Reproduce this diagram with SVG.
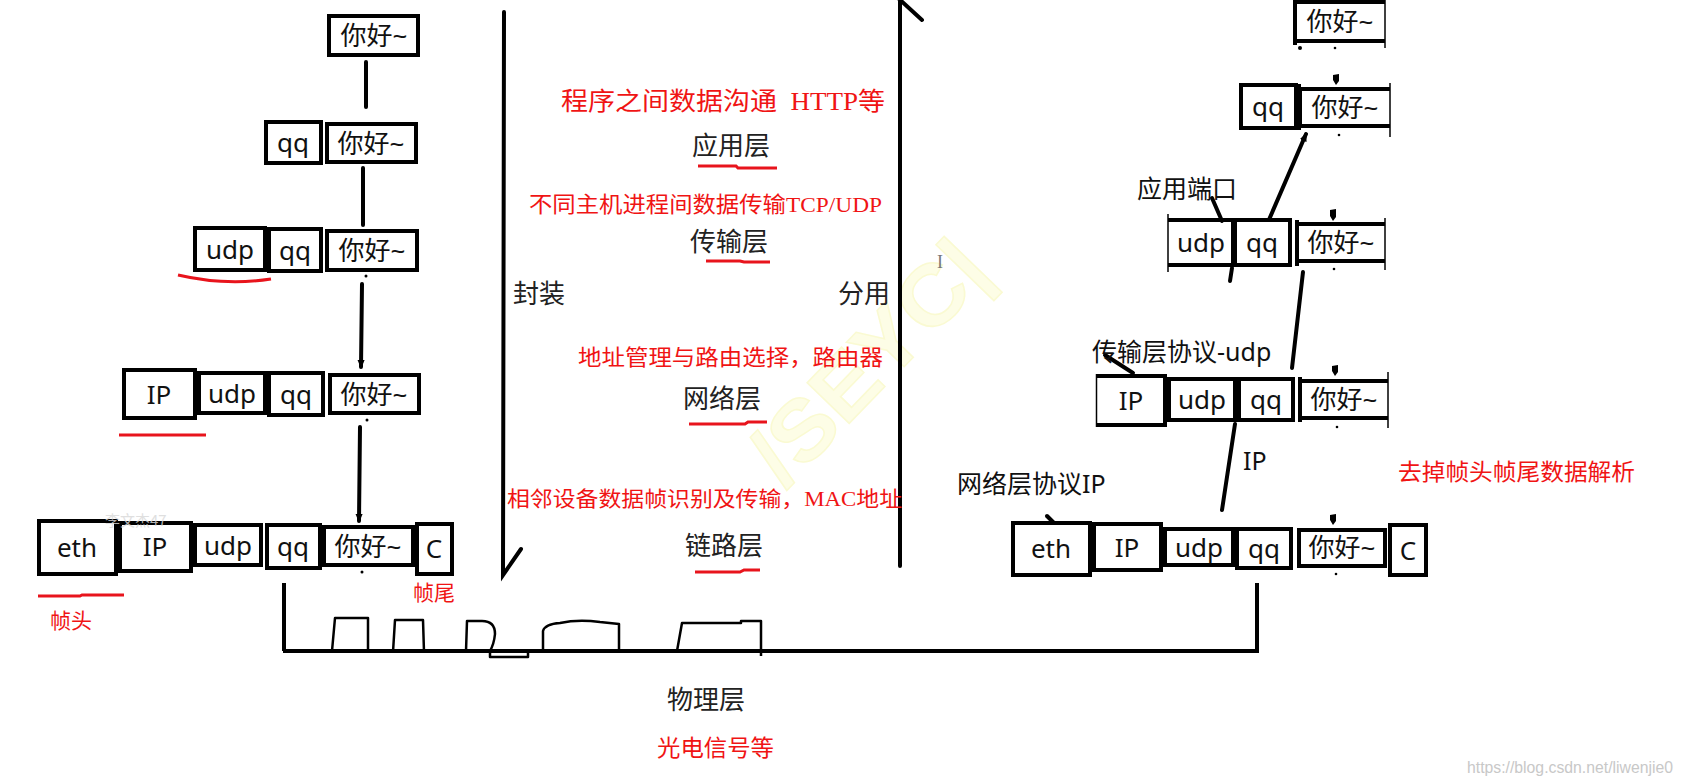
<svg xmlns="http://www.w3.org/2000/svg" width="1685" height="784" viewBox="0 0 1685 784">
<defs>
<style>
.bx{fill:#fff;stroke:#000;stroke-width:4}
.tk{fill:none;stroke:#000;stroke-width:4}
.tn{fill:none;stroke:#000;stroke-width:1.5}
.bt{font-family:"Noto Sans","Noto Sans CJK SC",sans-serif;font-size:26px;fill:#111;text-anchor:middle}
.lb{font-family:"Noto Sans","Noto Sans CJK SC",sans-serif;font-size:25px;fill:#111}
.ly{font-family:"Noto Sans CJK SC",sans-serif;font-size:26px;fill:#222}
.rd{font-family:"Liberation Serif","Noto Sans CJK SC",serif;fill:#f01414}
.ln{fill:none;stroke:#000;stroke-width:4;stroke-linecap:round}
.sg{fill:none;stroke:#000;stroke-width:2.5;stroke-linejoin:round}
.ul{fill:none;stroke:#e8141c;stroke-width:3}
.dot{fill:#000}
</style>
<marker id="ah" viewBox="0 0 10 10" refX="8" refY="5" markerWidth="9" markerHeight="9" markerUnits="userSpaceOnUse" orient="auto">
<path d="M0,1 L10,5 L0,9 z" fill="#000"/>
</marker>
</defs>
<rect width="1685" height="784" fill="#fff"/>

<!-- watermarks -->
<g id="watermarks">
<text x="785" y="490" transform="rotate(-46 785 490)" font-family="Liberation Sans,sans-serif" font-weight="bold" font-size="85" fill="#fdfde6" stroke="#fafad2" stroke-width="1.5" textLength="300" lengthAdjust="spacingAndGlyphs">/SEYC|</text>
<text x="1467" y="773" font-family="Liberation Sans,sans-serif" font-size="16" fill="#c8c8c8" textLength="206" lengthAdjust="spacingAndGlyphs">https://blog.csdn.net/liwenjie0</text>
<text x="940" y="268" text-anchor="middle" font-family="Liberation Serif,serif" font-size="18" fill="#777">I</text>
</g>

<!-- connectors -->
<g id="connectors">
<line class="ln" x1="366" y1="62" x2="366" y2="107"/>
<line class="ln" x1="363" y1="168" x2="363" y2="225"/>
<line class="ln" x1="362" y1="284" x2="361" y2="367" marker-end="url(#ah)"/>
<line class="ln" x1="360" y1="427" x2="359" y2="521" marker-end="url(#ah)"/>
<circle class="dot" cx="366" cy="276" r="1.5"/>
<circle class="dot" cx="367" cy="420" r="1.5"/>
<circle class="dot" cx="362" cy="572" r="1.5"/>
<path class="ln" d="M504,12 L503,575 L521,549"/>
<path class="ln" d="M900,566 L900,-4 M898,-2 L922,20"/>
<line class="tk" x1="284" y1="583" x2="284" y2="651" stroke-width="3"/>
<line class="tk" x1="1257" y1="583" x2="1257" y2="651" stroke-width="3"/>
<line class="tk" x1="283" y1="651" x2="1259" y2="651"/>
<path class="sg" d="M332,651 L335,618 H368 V651"/>
<path class="sg" d="M393,652 L395,620 H423 L424,652"/>
<path class="sg" d="M466,651 L467,621 H482 Q495,621 495,634 Q494,644 490,651 V657 H528 V651"/>
<path class="sg" d="M543,651 V631 Q545,624 560,623 Q578,619 600,622 L619,624 V651"/>
<path class="sg" d="M677,651 L682,623 H741 V621 H761 V656"/>
<line class="ln" x1="1268" y1="222" x2="1306" y2="134" stroke-width="5" marker-end="url(#ah)"/>
<line class="ln" x1="1212" y1="198" x2="1222" y2="221" stroke-width="3"/>
<line class="ln" x1="1232" y1="268" x2="1230" y2="281"/>
<line class="ln" x1="1303" y1="272" x2="1292" y2="368"/>
<line class="ln" x1="1105" y1="355" x2="1133" y2="373" stroke-width="3"/>
<line class="ln" x1="1235" y1="424" x2="1222" y2="510"/>
<line class="ln" x1="1047" y1="516" x2="1054" y2="523" stroke-width="3"/>
<path class="dot" d="M1333,75 L1339,74 L1339,81 L1336,85 L1333,80 z"/>
<path class="dot" d="M1330,210 L1336,209 L1336,217 L1333,221 L1330,216 z"/>
<path class="dot" d="M1332,366 L1338,365 L1338,372 L1335,376 L1332,371 z"/>
<path class="dot" d="M1330,515 L1336,514 L1336,521 L1333,525 L1330,520 z"/>
<circle class="dot" cx="1300" cy="48" r="2"/>
<circle class="dot" cx="1335" cy="48" r="1.3"/>
<circle class="dot" cx="1339" cy="135" r="1.3"/>
<circle class="dot" cx="1334" cy="269" r="1.3"/>
<circle class="dot" cx="1337" cy="427" r="1.3"/>
<circle class="dot" cx="1336" cy="574" r="1.3"/>
</g>

<!-- left: sender encapsulation -->
<g id="l-app">
<rect class="bx" x="329" y="16" width="89" height="39"/>
<text class="bt" x="374" y="45">你好~</text>
</g>
<g id="l-port">
<rect class="bx" x="266" y="122" width="55" height="41"/>
<text class="bt" x="293" y="152">qq</text>
<rect class="bx" x="327" y="124" width="89" height="38"/>
<text class="bt" x="371" y="153">你好~</text>
</g>
<g id="l-udp">
<rect class="bx" x="195" y="228" width="70" height="42"/>
<text class="bt" x="230" y="259">udp</text>
<rect class="bx" x="269" y="229" width="52" height="42"/>
<text class="bt" x="295" y="260">qq</text>
<rect class="bx" x="327" y="231" width="90" height="39"/>
<text class="bt" x="372" y="260">你好~</text>
<path class="ul" d="M178,275 Q225,286 271,279"/>
</g>
<g id="l-ip">
<rect class="bx" x="124" y="370" width="71" height="48"/>
<text class="bt" x="159" y="404">IP</text>
<rect class="bx" x="199" y="373" width="66" height="40"/>
<text class="bt" x="232" y="403">udp</text>
<rect class="bx" x="269" y="373" width="54" height="42"/>
<text class="bt" x="296" y="404">qq</text>
<rect class="bx" x="330" y="375" width="89" height="38"/>
<text class="bt" x="374" y="404">你好~</text>
<line class="ul" x1="119" y1="435" x2="206" y2="435"/>
</g>
<g id="l-eth">
<rect class="bx" x="39" y="521" width="77" height="53"/>
<text class="bt" x="77" y="557">eth</text>
<rect class="bx" x="120" y="523" width="71" height="48"/>
<text class="bt" x="155" y="556">IP</text>
<rect class="bx" x="195" y="525" width="66" height="40"/>
<text class="bt" x="228" y="555">udp</text>
<rect class="bx" x="267" y="525" width="53" height="43"/>
<text class="bt" x="293" y="556">qq</text>
<rect class="bx" x="324" y="527" width="89" height="38"/>
<text class="bt" x="368" y="556">你好~</text>
<rect class="bx" x="417" y="524" width="35" height="50"/>
<text class="bt" x="434" y="558">C</text>
<path class="ul" d="M38,596 H80 L82,595 H124"/>
<text class="rd" x="50" y="628" font-size="21">帧头</text>
<text class="rd" x="413" y="600" font-size="21">帧尾</text>
<text x="105" y="526" font-family="Noto Sans CJK SC,sans-serif" font-size="15" fill="#d8d8d8" opacity="0.8">李文杰47</text>
</g>

<!-- center: layers -->
<g id="layer-app">
<text class="rd" x="561" y="110" font-size="25" xml:space="preserve" textLength="324" lengthAdjust="spacingAndGlyphs">程序之间数据沟通  HTTP等</text>
<text class="ly" x="692" y="155">应用层</text>
<path class="ul" d="M698,166 H736 L738,168 H777"/>
</g>
<g id="layer-transport">
<text class="rd" x="529" y="212" font-size="22" textLength="353" lengthAdjust="spacingAndGlyphs">不同主机进程间数据传输TCP/UDP</text>
<text class="ly" x="690" y="251">传输层</text>
<path class="ul" d="M706,261 H740 L744,262 H770"/>
</g>
<g id="side-labels">
<text class="ly" x="513" y="303" font-size="24">封装</text>
<text class="ly" x="838" y="303" font-size="24">分用</text>
</g>
<g id="layer-network">
<text class="rd" x="578" y="365" font-size="22" textLength="305" lengthAdjust="spacingAndGlyphs">地址管理与路由选择，路由器</text>
<text class="ly" x="683" y="408">网络层</text>
<path class="ul" d="M689,424 H745 L748,422 H767"/>
</g>
<g id="layer-link">
<text class="rd" x="507" y="506" font-size="21" textLength="395" lengthAdjust="spacingAndGlyphs">相邻设备数据帧识别及传输，MAC地址</text>
<text class="ly" x="685" y="555">链路层</text>
<path class="ul" d="M695,572 H740 L744,570 H760"/>
</g>
<g id="layer-physical">
<text class="ly" x="667" y="709" font-size="29" fill="#000">物理层</text>
<text class="rd" x="657" y="756" font-size="23" textLength="117" lengthAdjust="spacingAndGlyphs">光电信号等</text>
</g>

<!-- right: receiver demultiplexing -->
<g id="r-app">
<path class="tk" d="M1385,2 H1295 V41 H1385"/>
<line class="tk" x1="1295" y1="-2" x2="1295" y2="45" stroke-width="5"/>
<line class="tn" x1="1385" y1="0" x2="1385" y2="48"/>
<text class="bt" x="1340" y="31">你好~</text>
</g>
<g id="r-port">
<rect class="bx" x="1241" y="85" width="55" height="43"/>
<text class="bt" x="1268" y="116">qq</text>
<path class="tk" d="M1390,89 H1300 V126 H1390"/>
<line class="tk" x1="1299" y1="84" x2="1299" y2="130" stroke-width="6"/>
<line class="tn" x1="1390" y1="83" x2="1390" y2="137"/>
<text class="bt" x="1345" y="117">你好~</text>
<text class="lb" x="1137" y="198">应用端口</text>
</g>
<g id="r-udp">
<path class="tk" d="M1168,220 H1233 V265 H1168"/>
<line class="tn" x1="1168" y1="214" x2="1168" y2="272"/>
<rect class="bx" x="1235" y="220" width="55" height="45"/>
<text class="bt" x="1201" y="252">udp</text>
<text class="bt" x="1262" y="252">qq</text>
<path class="tk" d="M1385,224 H1297 V261 H1385"/>
<line class="tk" x1="1297" y1="220" x2="1297" y2="266" stroke-width="5"/>
<line class="tn" x1="1385" y1="218" x2="1385" y2="270"/>
<text class="bt" x="1341" y="252">你好~</text>
<text class="lb" x="1092" y="361">传输层协议-udp</text>
</g>
<g id="r-ip">
<path class="tk" d="M1096,376 H1165 V425 H1096"/>
<line class="tn" x1="1096.5" y1="374" x2="1096.5" y2="427"/>
<text class="bt" x="1131" y="410">IP</text>
<rect class="bx" x="1169" y="379" width="66" height="41"/>
<text class="bt" x="1202" y="409">udp</text>
<rect class="bx" x="1239" y="379" width="54" height="41"/>
<text class="bt" x="1266" y="409">qq</text>
<path class="tk" d="M1388,381 H1300 V418 H1388"/>
<line class="tk" x1="1300" y1="377" x2="1300" y2="422" stroke-width="5"/>
<line class="tn" x1="1388" y1="372" x2="1388" y2="428"/>
<text class="bt" x="1344" y="409">你好~</text>
<text class="lb" x="1243" y="470" font-size="27">IP</text>
<text class="lb" x="957" y="493">网络层协议IP</text>
</g>
<g id="r-eth">
<rect class="bx" x="1013" y="523" width="77" height="52"/>
<text class="bt" x="1051" y="558">eth</text>
<rect class="bx" x="1094" y="524" width="67" height="46"/>
<text class="bt" x="1127" y="557">IP</text>
<rect class="bx" x="1165" y="529" width="68" height="36"/>
<text class="bt" x="1199" y="557">udp</text>
<rect class="bx" x="1237" y="529" width="54" height="39"/>
<text class="bt" x="1264" y="558">qq</text>
<rect class="bx" x="1299" y="530" width="86" height="36"/>
<text class="bt" x="1342" y="557">你好~</text>
<rect class="bx" x="1390" y="525" width="36" height="50"/>
<text class="bt" x="1408" y="560">C</text>
<text class="rd" x="1398" y="480" font-size="23" textLength="237" lengthAdjust="spacingAndGlyphs">去掉帧头帧尾数据解析</text>
</g>
</svg>
